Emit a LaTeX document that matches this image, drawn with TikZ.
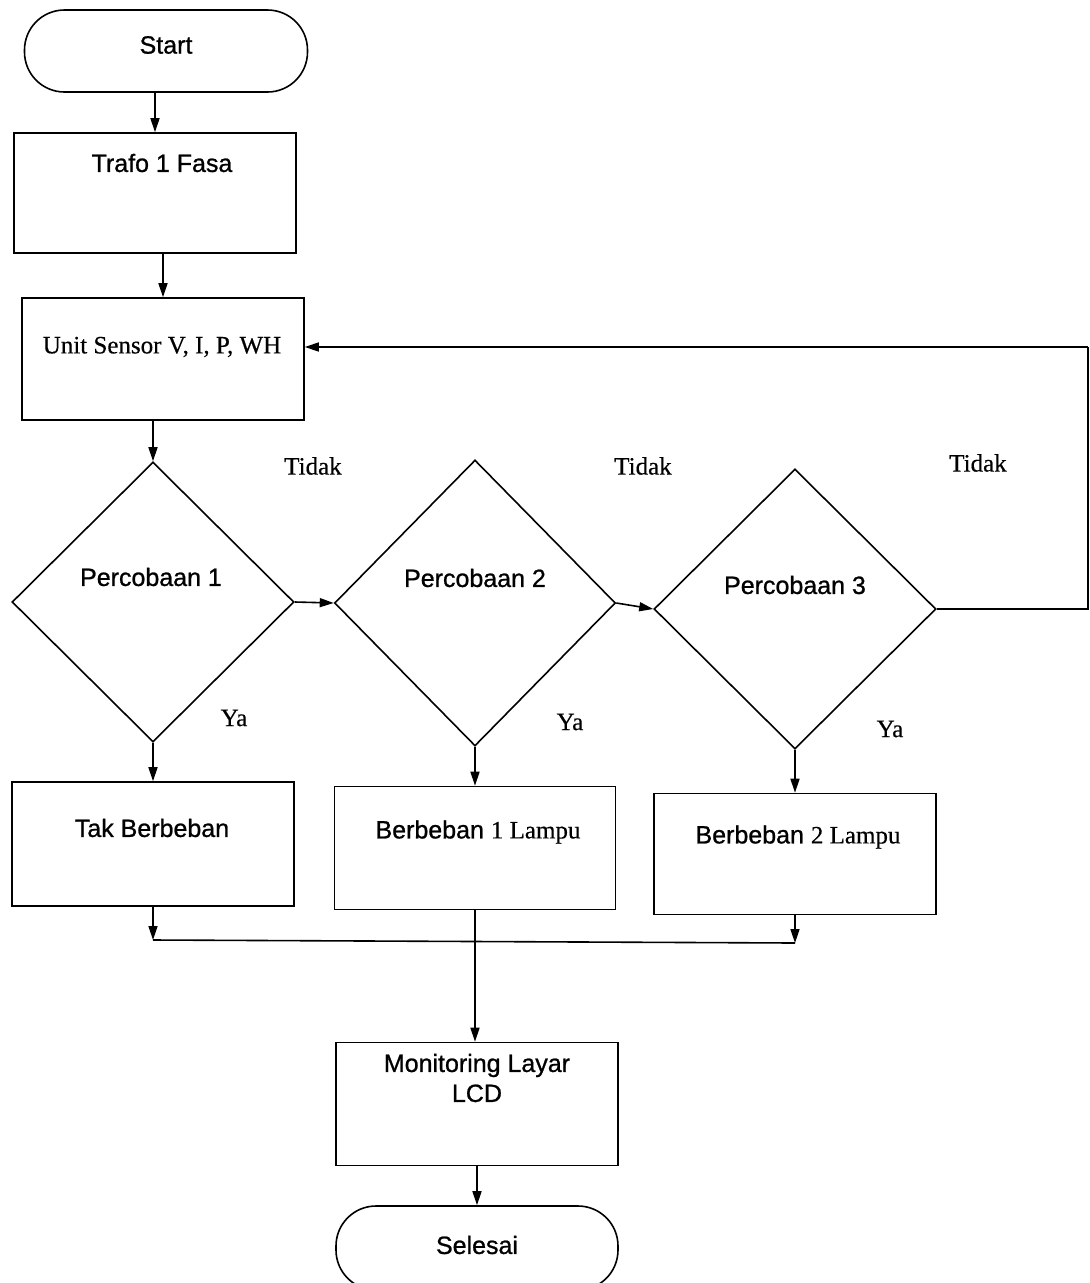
\documentclass[tikz,border=0pt]{standalone}
\usepackage{fontspec}
\setmainfont{Liberation Sans}[FakeBold=0.9]
\newfontfamily\tnr{Liberation Serif}[FakeBold=0.4]
\usetikzlibrary{shapes.geometric,arrows.meta}
\tikzset{
  box/.style={draw, line width=1.6pt, minimum width=282pt, minimum height=122pt, inner sep=0pt},
  pill/.style={draw, line width=1.6pt, rounded corners=40pt, minimum width=283pt, minimum height=82pt, inner sep=0pt},
  decide/.style={draw, diamond, line width=1.6pt, minimum width=282pt, minimum height=282pt, inner sep=0pt},
  txt/.style={font=\fontsize{25}{30}\selectfont, inner sep=0pt, align=center},
  ser/.style={font=\fontsize{25}{30}\selectfont\tnr, inner sep=0pt},
  arr/.style={line width=1.6pt, -{Triangle[length=14pt, width=9pt]}},
  ln/.style={line width=1.6pt}
}
\begin{document}
\begin{tikzpicture}[x=1pt, y=-1pt]
  \useasboundingbox (0,0) rectangle (1090,1283);
  % Coordinates
  \coordinate (S) at (166, 51);
  \coordinate (T) at (155, 193);
  \coordinate (U) at (163, 359);
  \coordinate (P1) at (153, 602);
  \coordinate (P2) at (475, 603);
  \coordinate (P3) at (795, 609);
  \coordinate (B1) at (153, 844);
  \coordinate (B2) at (475, 848);
  \coordinate (B3) at (795, 854);
  \coordinate (L) at (477, 1104);
  \coordinate (E) at (477, 1248);
  \coordinate (back) at (1088, 347);

  % Drawing
  \node[pill] (start) at (S) {};
  \node[txt] (starttxt) at (166, 45) {Start};
  \node[box, minimum height=120pt] (trafo) at (T) {};
  \node[txt] (trafotxt) at (162, 163) {Trafo 1 Fasa};
  \node[box] (sensor) at (U) {};
  \node[ser] (sensortxt) at (162, 347) {Unit Sensor V, I, P, WH};

  \node[decide, minimum height=280pt] (d1) at (P1) {};
  \node[txt] (d1txt) at (151, 577) {Percobaan 1};
  \node[decide, minimum width=281pt, minimum height=286pt] (d2) at (P2) {};
  \node[txt] (d2txt) at (475, 578) {Percobaan 2};
  \node[decide, minimum height=280pt] (d3) at (P3) {};
  \node[txt] (d3txt) at (795, 585) {Percobaan 3};

  \node[ser] (no1) at (313, 466) {Tidak};
  \node[ser] (no2) at (643, 466) {Tidak};
  \node[ser] (no3) at (978, 463) {Tidak};
  \node[ser] (yes1) at (234, 718) {Ya};
  \node[ser] (yes2) at (570, 722) {Ya};
  \node[ser] (yes3) at (890, 729) {Ya};

  \node[box, minimum height=124pt] (b1) at (B1) {};
  \node[txt] (b1txt) at (152, 828) {Tak Berbeban};
  \node[box, minimum width=281pt, minimum height=123pt] (b2) at (B2) {};
  \node[txt] (b2txt) at (478, 832) {Berbeban {\tnr 1 Lampu}};
  \node[box, minimum height=121pt] (b3) at (B3) {};
  \node[txt] (b3txt) at (798, 837) {Berbeban {\tnr 2 Lampu}};

  \node[box, minimum height=123pt] (lcd) at (L) {};
  \node[txt] (lcdtxt) at (477, 1078) {Monitoring Layar\\LCD};
  \node[pill, minimum width=282pt, minimum height=84pt] (stop) at (E) {};
  \node[txt] (stoptxt) at (477, 1245) {Selesai};

  \coordinate (m1) at (153, 940);
  \coordinate (m3) at (795, 943);

  \draw[arr] (trafo.north |- start.south) -- (trafo.north);
  \draw[arr] (sensor.north |- trafo.south) -- (sensor.north);
  \draw[arr] (d1.north |- sensor.south) -- (d1.north);
  \draw[arr] (d1.east) -- (d2.west);
  \draw[arr] (d2.east) -- (d3.west);
  \draw[ln] (d3.east) -| (back);
  \draw[arr] (back) -- (back -| sensor.east);
  \draw[arr] (d1.south) -- (b1.north);
  \draw[arr] (d2.south) -- (b2.north);
  \draw[arr] (d3.south) -- (b3.north);
  \draw[arr] (b1.south) -- (m1);
  \draw[arr] (b3.south) -- (m3);
  \draw[ln] (m1) -- (m3);
  \draw[arr] (b2.south) -- (b2.south |- lcd.north);
  \draw[arr] (lcd.south) -- (stop.north);
\end{tikzpicture}
\end{document}
